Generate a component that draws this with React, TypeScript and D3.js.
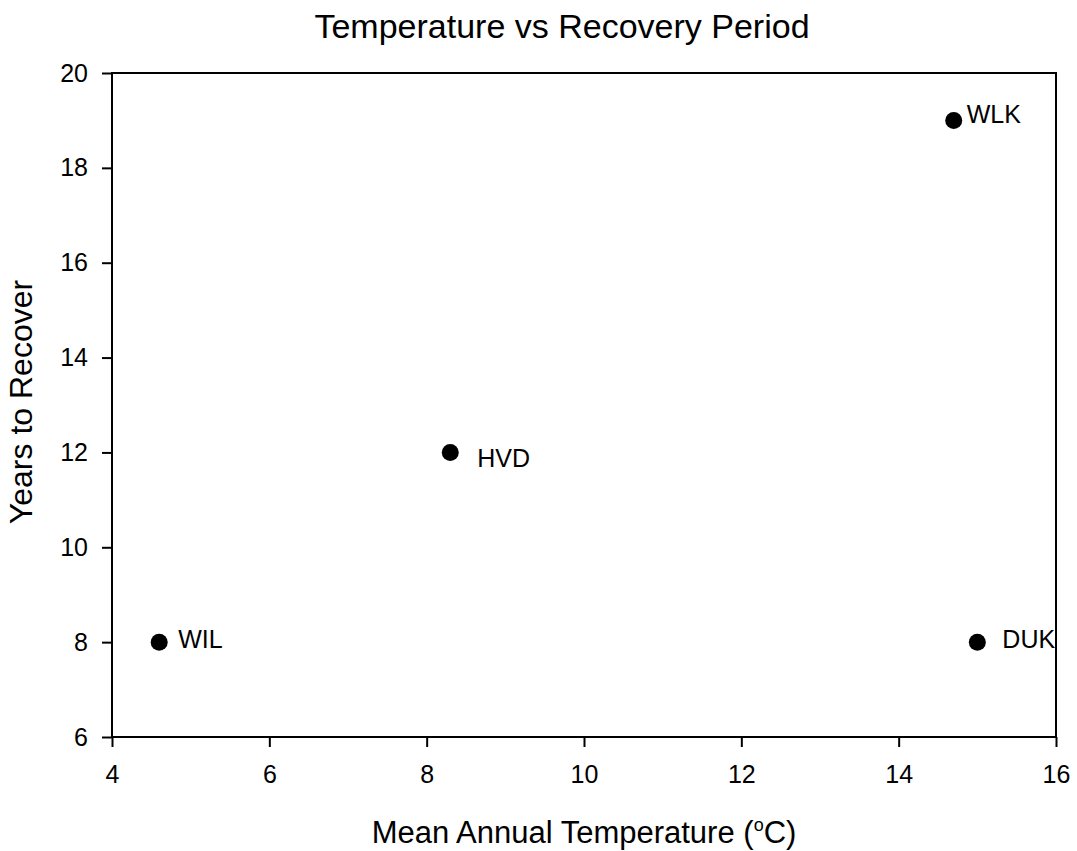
import { useEffect, useRef } from "react";
import * as d3 from "d3";

const sites = ["WLK", "HVD", "WIL", "DUK"];
const temperature = [14.7, 8.3, 4.6, 15.0];
const yearsToRecover = [19, 12, 8, 8];
const xTicks = [4, 6, 8, 10, 12, 14, 16];
const yTicks = [6, 8, 10, 12, 14, 16, 18, 20];

// label offsets relative to the dot, as in the original figure
const labelDx = [13, 27, 19, 25];
const labelDy = [3, 15, 6, 6];

export default function App() {
  const ref = useRef<SVGSVGElement | null>(null);

  useEffect(() => {
    const width = 1077;
    const height = 851;
    const left = 112;
    const right = 1056;
    const top = 73;
    const bottom = 737;
    const font = "Arial, 'Liberation Sans', sans-serif";

    const svg = d3.select(ref.current);
    svg.selectAll("*").remove();
    svg.attr("width", width).attr("height", height);

    svg
      .append("rect")
      .attr("width", width)
      .attr("height", height)
      .attr("fill", "#fff");

    const x = d3.scaleLinear().domain([4, 16]).range([left, right]);
    const y = d3.scaleLinear().domain([6, 20]).range([bottom, top]);

    // frame
    svg
      .append("rect")
      .attr("x", left)
      .attr("y", top)
      .attr("width", right - left)
      .attr("height", bottom - top)
      .attr("fill", "none")
      .attr("stroke", "#000")
      .attr("stroke-width", 2);

    const xAxis = svg
      .append("g")
      .attr("transform", `translate(0,${bottom})`)
      .call(
        d3
          .axisBottom(x)
          .tickValues(xTicks)
          .tickSize(10)
          .tickPadding(18)
          .tickFormat(d3.format("d"))
      );

    const yAxis = svg
      .append("g")
      .attr("transform", `translate(${left},0)`)
      .call(
        d3
          .axisLeft(y)
          .tickValues(yTicks)
          .tickSize(10)
          .tickPadding(14)
          .tickFormat(d3.format("d"))
      );

    [xAxis, yAxis].forEach((g) => {
      g.select(".domain").remove();
      g.selectAll(".tick line").attr("stroke", "#000").attr("stroke-width", 2);
      g.selectAll(".tick text")
        .attr("fill", "#000")
        .style("font-family", font)
        .style("font-size", "25px");
    });

    const pts = sites.map((s, i) => ({
      site: s,
      t: temperature[i],
      yr: yearsToRecover[i],
      dx: labelDx[i],
      dy: labelDy[i],
    }));

    svg
      .selectAll(".dot")
      .data(pts)
      .enter()
      .append("circle")
      .attr("class", "dot")
      .attr("cx", (d) => x(d.t))
      .attr("cy", (d) => y(d.yr))
      .attr("r", 8.5)
      .attr("fill", "#000");

    svg
      .selectAll(".lbl")
      .data(pts)
      .enter()
      .append("text")
      .attr("class", "lbl")
      .attr("x", (d) => x(d.t) + d.dx)
      .attr("y", (d) => y(d.yr) + d.dy)
      .style("font-family", font)
      .style("font-size", "25px")
      .text((d) => d.site);

    svg
      .append("text")
      .attr("x", 562)
      .attr("y", 38)
      .attr("text-anchor", "middle")
      .style("font-family", font)
      .style("font-size", "34px")
      .text("Temperature vs Recovery Period");

    const xl = svg
      .append("text")
      .attr("x", (left + right) / 2)
      .attr("y", 843)
      .attr("text-anchor", "middle")
      .style("font-family", font)
      .style("font-size", "31px");
    xl.append("tspan").text("Mean Annual Temperature (");
    xl.append("tspan").attr("dy", -12).style("font-size", "18px").text("o");
    xl.append("tspan").attr("dy", 12).text("C)");

    svg
      .append("text")
      .attr("transform", `translate(32,${(top + bottom) / 2 - 3}) rotate(-90)`)
      .attr("text-anchor", "middle")
      .style("font-family", font)
      .style("font-size", "32px")
      .text("Years to Recover");
  }, []);

  return (
    <svg
      ref={ref}
      style={{ position: "absolute", left: 0, top: 0, display: "block" }}
    />
  );
}
